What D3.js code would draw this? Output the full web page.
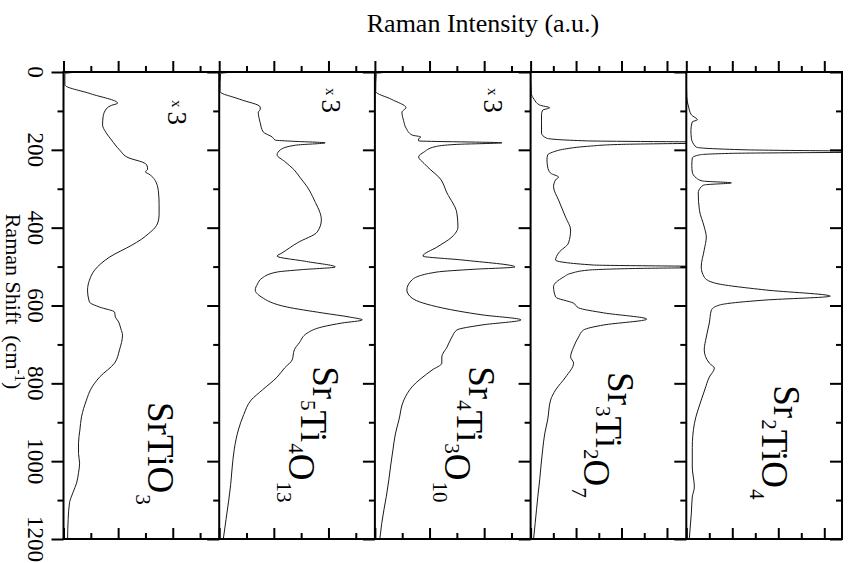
<!DOCTYPE html>
<html>
<head>
<meta charset="utf-8">
<script src="https://cdn.jsdelivr.net/npm/d3@7"></script>
<style>
    body { margin: 0; background: #fff; }
    svg text { font-family: "Liberation Serif", "DejaVu Serif", serif; fill: #000; }
</style>
</head>
<body>
<div id="chart"></div>
<script>
// panels, left to right; "_" marks a subscript
let compounds = ["SrTiO_3", "Sr_5Ti_4O_13", "Sr_4Ti_3O_10", "Sr_3Ti_2O_7", "Sr_2TiO_4"];
let magnify = ["3", "3", "3", "", ""];
let intensityMax = [5.7, 5.7, 5.7, 6.85, 6.77];
let shiftTicks = [0, 200, 400, 600, 800, 1000, 1200];
let shiftMinor = [100, 300, 500, 700, 900, 1100];

// [Raman shift (cm-1), intensity (a.u.)]
let srTiO3 = [[0, 0.6], [4, 0.05], [33, 0.05], [56, 1.0], [80, 1.98], [86, 1.75], [92, 1.6], [115, 1.45], [136, 1.43],
    [155, 1.55], [175, 1.76], [200, 2.05], [221, 2.4], [232, 2.9], [239, 3.05], [250, 3.08], [257, 3.0], [262, 3.12],
    [285, 3.4], [311, 3.48], [340, 3.5], [367, 3.5], [388, 3.45], [400, 3.35], [415, 3.12], [430, 2.85], [445, 2.5],
    [475, 1.7], [509, 1.14], [535, 0.95], [560, 0.88], [591, 0.95], [604, 1.32], [617, 1.87], [630, 1.9], [640, 2.0],
    [660, 2.1], [676, 2.16], [714, 2.05], [748, 1.87], [784, 1.32], [815, 1.0], [843, 0.84], [886, 0.66], [920, 0.6],
    [953, 0.55], [980, 0.55], [1005, 0.59], [1030, 0.55], [1056, 0.48], [1080, 0.35], [1107, 0.22], [1150, 0.17],
    [1200, 0.15]];

let sr5Ti4O13 = [[0, 0.6], [4, 0.05], [50, 0.03], [70, 0.75], [90, 1.5], [97, 1.5], [103, 1.43], [130, 1.5], [154, 1.61],
    [167, 1.94], [175, 2.05], [178, 2.7], [182, 3.88], [188, 2.8], [200, 2.24], [213, 2.12], [230, 2.4], [252, 2.75],
    [272, 2.97], [295, 3.22], [329, 3.48], [380, 3.74], [411, 3.59], [439, 2.86], [465, 2.3], [473, 2.12], [487, 3.2],
    [501, 4.25], [508, 3.0], [514, 2.12], [529, 1.58], [545, 1.4], [560, 1.32], [578, 1.54], [604, 2.49], [619, 3.77],
    [630, 4.8], [637, 5.24], [645, 4.5], [655, 3.77], [671, 3.22], [696, 2.93], [714, 2.75], [740, 2.67], [760, 2.4],
    [784, 2.12], [817, 1.58], [843, 1.17], [880, 0.9], [920, 0.7], [970, 0.55], [1020, 0.47], [1060, 0.42],
    [1100, 0.35], [1150, 0.25], [1200, 0.15]];

let sr4Ti3O10 = [[0, 0.6], [4, 0.05], [50, 0.03], [70, 0.6], [92, 1.14], [98, 1.05], [103, 0.99], [125, 1.05], [144, 1.14],
    [162, 1.36], [167, 1.68], [172, 1.6], [177, 1.6], [182, 4.65], [186, 3.0], [192, 2.2], [206, 1.79], [218, 1.6],
    [235, 1.8], [252, 2.05], [270, 2.34], [311, 2.64], [362, 3.0], [398, 3.04], [424, 2.82], [450, 2.27], [473, 1.76],
    [483, 3.19], [501, 5.13], [507, 3.6], [514, 2.27], [534, 1.36], [560, 1.17], [581, 1.36], [606, 2.45], [624, 3.92],
    [637, 5.35], [650, 3.92], [663, 3.0], [681, 2.82], [707, 2.64], [732, 2.45], [748, 2.45], [766, 2.09], [809, 1.36],
    [843, 1.06], [894, 0.88], [930, 0.75], [971, 0.66], [1010, 0.58], [1048, 0.51], [1090, 0.42], [1125, 0.33],
    [1160, 0.25], [1200, 0.18]];

let sr3Ti2O7 = [[0, 0], [55, 0.03], [70, 0.15], [85, 0.4], [92, 0.84], [98, 0.53], [110, 0.48], [128, 0.48], [157, 0.48],
    [170, 0.7], [177, 2.47], [181, 9], [186, 4.0], [191, 2.5], [198, 1.5], [206, 0.97], [213, 0.75], [225, 0.72],
    [244, 0.75], [260, 0.88], [270, 1.23], [277, 1.1], [295, 1.01], [329, 1.23], [373, 1.54], [406, 1.76], [439, 1.67],
    [465, 1.23], [483, 1.1], [496, 2.77], [501, 9], [505, 4.5], [509, 2.55], [517, 1.8], [527, 1.45], [552, 1.01],
    [578, 1.1], [594, 1.89], [606, 2.11], [619, 3.22], [635, 5.11], [650, 3.22], [663, 2.33], [681, 2.11], [707, 1.89],
    [732, 1.76], [748, 1.89], [784, 1.54], [817, 1.1], [843, 0.88], [894, 0.75], [930, 0.62], [971, 0.53], [1010, 0.46],
    [1048, 0.4], [1090, 0.32], [1125, 0.26], [1160, 0.2], [1200, 0.13]];

let sr2TiO4 = [[0, 0], [64, 0.02], [90, 0.1], [110, 0.22], [123, 0.48], [128, 0.26], [150, 0.2], [170, 0.22], [193, 0.43],
    [200, 2.6], [205, 9], [209, 2.0], [213, 0.57], [221, 0.26], [240, 0.24], [257, 0.26], [272, 0.43], [280, 0.7],
    [285, 1.96], [290, 0.8], [295, 0.65], [311, 0.52], [355, 0.57], [398, 0.78], [424, 0.87], [457, 0.78], [501, 0.65],
    [527, 0.78], [542, 1.22], [560, 3.43], [576, 6.26], [586, 3.43], [599, 1.43], [612, 1.09], [645, 1.0], [681, 0.87],
    [714, 0.78], [748, 1.0], [761, 1.22], [784, 1.0], [817, 0.8], [843, 0.65], [904, 0.35], [965, 0.26], [1015, 0.26],
    [1066, 0.35], [1092, 0.26], [1133, 0.22], [1200, 0.13]];

let spectra = [srTiO3, sr5Ti4O13, sr4Ti3O10, sr3Ti2O7, sr2TiO4];

let width = 850;
let height = 563;
let plotLeft = 63.5, plotRight = 842, plotTop = 72, plotBottom = 539;

// where the formula and the "x 3" sit in each panel
let labelShift = [848, 756, 756, 771, 805];
let labelInset = [84, 94, 94, 77, 88];
let magShift = [72, 41, 41];
let magInset = [104, 103, 109];

let svg = d3.select("#chart")
    .append("svg")
    .attr("width", width)
    .attr("height", height);

const y = d3.scaleLinear()
    .domain([0, 1200])
    .range([plotTop, plotBottom]);

const band = d3.scaleBand()
    .domain(compounds)
    .range([plotLeft, plotRight]);
let bw = band.bandwidth();

const line = (xs) => d3.line()
    .x(d => xs(d[1]))
    .y(d => y(d[0]))
    .curve(d3.curveMonotoneY);

const splitFormula = (f) => {
    let parts = [];
    f.replace(/([A-Z][a-z]?)(_(\d+))?/g, (m, el, u, n) => { parts.push([el, n || ""]); });
    return parts;
}

compounds.forEach((c, i) => {
    let x0 = band(c);
    let xs = d3.scaleLinear().domain([0, intensityMax[i]]).range([0, bw]);
    let g = svg.append("g").attr("transform", `translate(${x0},0)`);

    g.append("clipPath").attr("id", "clip" + i)
        .append("rect")
        .attr("x", 0).attr("y", plotTop)
        .attr("width", bw).attr("height", plotBottom - plotTop);

    g.append("path")
        .datum(spectra[i])
        .attr("clip-path", `url(#clip${i})`)
        .attr("fill", "none")
        .attr("stroke", "#1a1a1a")
        .attr("stroke-width", 1)
        .attr("d", line(xs));

    // intensity ticks, top (outward) and bottom (inward)
    let steps = d3.range(0, intensityMax[i]);
    let major = steps.filter(v => v % 2 === 0);
    let minor = steps.filter(v => v % 2 === 1);
    [[major, 11], [minor, 6]].forEach(([vals, len]) => {
        g.append("g")
            .attr("transform", `translate(0,${plotTop})`)
            .call(d3.axisTop(xs).tickValues(vals).tickSize(len).tickFormat(""))
            .call(a => a.select(".domain").remove())
            .selectAll("line").attr("stroke-width", 2);
        g.append("g")
            .attr("transform", `translate(0,${plotBottom})`)
            .call(d3.axisBottom(xs).tickValues(vals).tickSize(-len).tickFormat(""))
            .call(a => a.select(".domain").remove())
            .selectAll("line").attr("stroke-width", 2);
    });

    // formula label, rotated
    let lab = g.append("text")
        .attr("transform", `translate(${labelInset[i]},${y(labelShift[i])}) rotate(90)`)
        .attr("font-size", 37);
    splitFormula(c).forEach(([el, n]) => {
        lab.append("tspan").text(el);
        if (n) {
            lab.append("tspan").attr("font-size", 21).attr("dx", 1).attr("dy", 12).text(n);
            lab.append("tspan").attr("font-size", 37).attr("dx", 2).attr("dy", -12).text("");
        }
    });

    if (magnify[i]) {
        let m = g.append("text")
            .attr("transform", `translate(${magInset[i]},${y(magShift[i])}) rotate(90)`);
        m.append("tspan").attr("font-size", 15).attr("dy", -4).text("x");
        m.append("tspan").attr("font-size", 27).attr("dx", 4).attr("dy", 4).text(magnify[i]);
    }
});

// frame and panel dividers, each with left-pointing shift ticks
let edges = [plotLeft].concat(compounds.map(c => band(c) + bw));
edges.forEach(ex => {
    [[shiftTicks, 12], [shiftMinor, 6]].forEach(([vals, len]) => {
        svg.append("g")
            .attr("transform", `translate(${ex},0)`)
            .call(d3.axisLeft(y).tickValues(vals).tickSize(len).tickFormat(""))
            .call(a => a.select(".domain").remove())
            .selectAll("line").attr("stroke-width", 2);
    });
    svg.append("line")
        .attr("x1", ex).attr("x2", ex)
        .attr("y1", plotTop).attr("y2", plotBottom)
        .attr("stroke", "#000").attr("stroke-width", 2);
});
[plotTop, plotBottom].forEach(yy => {
    svg.append("line")
        .attr("x1", plotLeft - 1).attr("x2", plotRight + 1)
        .attr("y1", yy).attr("y2", yy)
        .attr("stroke", "#000").attr("stroke-width", 2);
});

// shift tick labels, rotated
svg.append("g").selectAll("text")
    .data(shiftTicks)
    .join("text")
    .attr("transform", d => `translate(28,${y(d)}) rotate(90)`)
    .attr("text-anchor", "middle")
    .attr("font-size", 23)
    .text(d => d);

// axis titles
svg.append("text")
    .attr("x", 483).attr("y", 32)
    .attr("text-anchor", "middle")
    .attr("font-size", 26)
    .text("Raman Intensity (a.u.)");

let yt = svg.append("text")
    .attr("transform", `translate(6,${(plotTop + plotBottom) / 2 - 4}) rotate(90)`)
    .attr("text-anchor", "middle")
    .attr("font-size", 22);
yt.append("tspan").text("Raman Shift\u00a0\u00a0(cm");
yt.append("tspan").attr("font-size", 15).attr("dy", -9).text("-1");
yt.append("tspan").attr("dy", 9).text(")");
</script>
</body>
</html>
